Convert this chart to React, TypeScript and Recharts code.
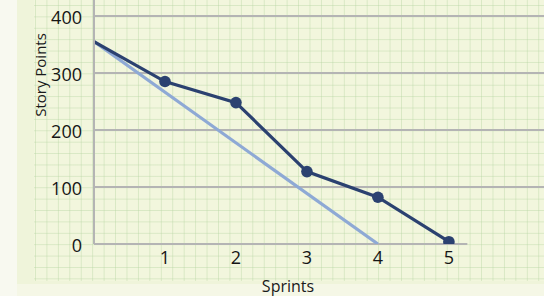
import React from "react";
import { LineChart, Line, XAxis, YAxis, ReferenceLine } from "recharts";

const sprints = [0, 1, 2, 3, 4, 5];
const actualPoints = [355, 285, 248, 127, 82, 4];
const idealSprints = [0, 4];
const idealPoints = [355, 0];
const xTicks = [1, 2, 3, 4, 5];
const yTicks = [0, 100, 200, 300, 400];

const actualData = sprints.map((s, i) => ({ sprint: s, actual: actualPoints[i] }));
const idealData = idealSprints.map((s, i) => ({ sprint: s, ideal: idealPoints[i] }));

const FONT = "'Open Sans', 'DejaVu Sans', sans-serif";

const ActualDot = (props: any) => {
  const { cx, cy, index } = props;
  if (index === 0) return <g key={`d${index}`} />;
  return <circle key={`d${index}`} cx={cx} cy={cy} r={5.8} fill="#2b4170" />;
};

export default function App() {
  return (
    <div
      style={{
        position: "absolute",
        left: 0,
        top: 0,
        width: 544,
        height: 296,
        background: "#f5f7e6",
        overflow: "hidden",
      }}
    >
      <div style={{ position: "absolute", left: 0, top: 0, width: 17, height: 296, background: "#f8f9f0" }} />
      <div style={{ position: "absolute", left: 17, top: 0, width: 527, height: 284, background: "#eff4da" }} />
      <div
        style={{
          position: "absolute",
          left: 34,
          top: 0,
          width: 510,
          height: 281,
          backgroundColor: "#f2f6dd",
          backgroundImage:
            "linear-gradient(to right, rgba(185,215,165,0.45) 1px, transparent 1px), linear-gradient(to bottom, rgba(185,215,165,0.45) 1px, transparent 1px)",
          backgroundSize: "11.45px 11.4px",
          backgroundPosition: "1px 5px",
        }}
      />
      <div style={{ position: "absolute", left: 0, top: 0 }}>
        <LineChart width={544} height={296} margin={{ top: 0, right: 0, bottom: 0, left: 0 }}>
          <XAxis
            dataKey="sprint"
            type="number"
            domain={[0, 6.34]}
            ticks={xTicks}
            allowDataOverflow
            axisLine={false}
            tickLine={false}
            tick={{ fill: "#151515", fontSize: 18, fontFamily: FONT }}
            tickMargin={1}
            height={52}
            interval={0}
          />
          <YAxis
            type="number"
            domain={[0, 428]}
            ticks={yTicks}
            allowDataOverflow
            axisLine={{ stroke: "#b4b4b4", strokeWidth: 2 }}
            tickLine={false}
            tick={{ fill: "#151515", fontSize: 18, fontFamily: FONT, dy: 2 }}
            tickMargin={6}
            width={94}
            interval={0}
          />
          {yTicks.filter((t) => t > 0).map((t) => (
            <ReferenceLine key={t} y={t} stroke="#b4b4b4" strokeWidth={2} />
          ))}
          <ReferenceLine
            segment={[
              { x: 0, y: 0 },
              { x: 5.26, y: 0 },
            ]}
            stroke="#b4b4b4"
            strokeWidth={2}
          />
          <Line
            data={idealData}
            dataKey="ideal"
            stroke="#8ea9d5"
            strokeWidth={3.2}
            dot={false}
            isAnimationActive={false}
          />
          <Line
            data={actualData}
            dataKey="actual"
            stroke="#2b4170"
            strokeWidth={3.2}
            dot={ActualDot}
            activeDot={false}
            isAnimationActive={false}
          />
        </LineChart>
      </div>
      <div
        style={{
          position: "absolute",
          left: 40,
          top: 75,
          transform: "translate(-50%, -50%) rotate(-90deg)",
          fontFamily: FONT,
          fontSize: 15,
          lineHeight: "15px",
          color: "#1a1a1a",
          whiteSpace: "nowrap",
        }}
      >
        Story Points
      </div>
      <div
        style={{
          position: "absolute",
          left: 288,
          top: 286,
          transform: "translate(-50%, -50%)",
          fontFamily: FONT,
          fontSize: 16,
          lineHeight: "16px",
          color: "#1a1a1a",
          whiteSpace: "nowrap",
        }}
      >
        Sprints
      </div>
    </div>
  );
}
